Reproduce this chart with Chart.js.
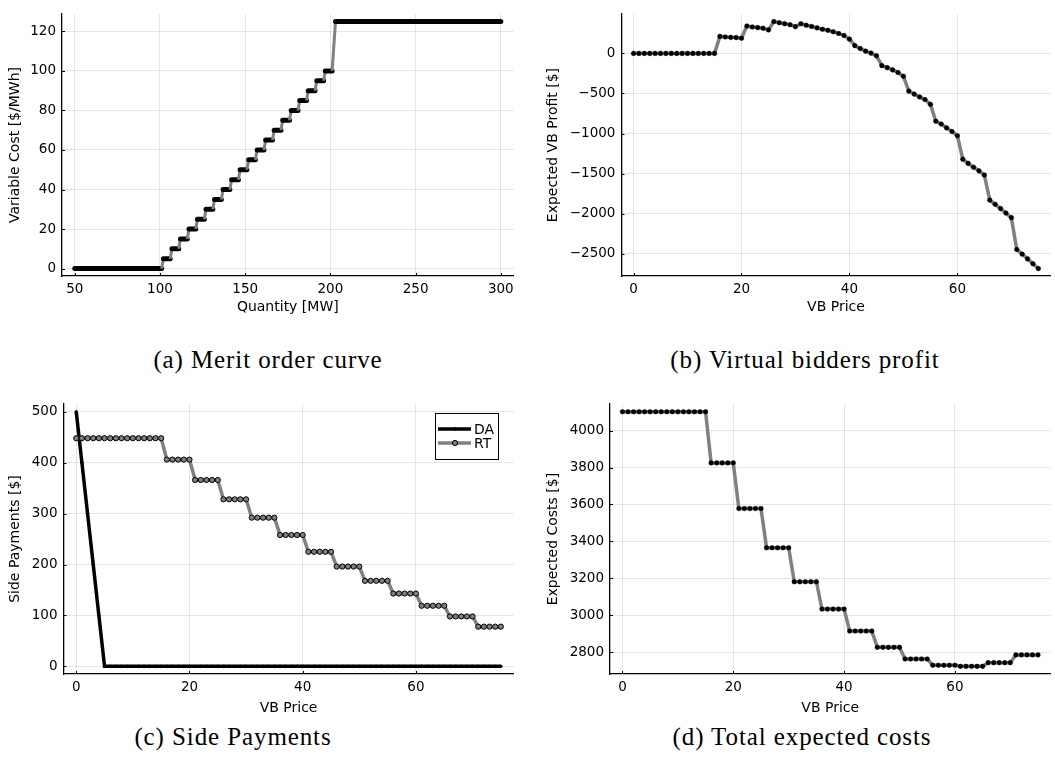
<!DOCTYPE html>
<html>
<head>
<meta charset="utf-8">
<title>Virtual bidding results</title>
<script src="https://cdn.jsdelivr.net/npm/chart.js@4.4.1/dist/chart.umd.min.js"></script>
<style>
  body { margin: 0; background: #fff; }
  #page { position: relative; width: 1055px; height: 772px; overflow: hidden; }
  #page canvas { position: absolute; }
  .caption {
    position: absolute;
    font-family: "Liberation Serif", "DejaVu Serif", serif;
    font-size: 25px;
    letter-spacing: 0.9px;
    line-height: 26px;
    color: #000;
    white-space: nowrap;
    transform: translateX(-50%);
  }
</style>
</head>
<body>
<div id="page">
  <canvas id="meritChart" width="530" height="330" style="left:0;top:0"></canvas>
  <canvas id="profitChart" width="525" height="330" style="left:530px;top:0"></canvas>
  <canvas id="sideChart" width="530" height="330" style="left:0;top:390px"></canvas>
  <canvas id="costChart" width="525" height="330" style="left:530px;top:390px"></canvas>
  <div class="caption" style="left:268px;top:347px">(a) Merit order curve</div>
  <div class="caption" style="left:805px;top:347px">(b) Virtual bidders profit</div>
  <div class="caption" style="left:233px;top:724px">(c) Side Payments</div>
  <div class="caption" style="left:802px;top:724px">(d) Total expected costs</div>
</div>
<script>
// merit order: first and last quantity of every price step
const quantity = [50, 101, 102, 106, 107, 111, 112, 116, 117, 121, 122, 126, 127, 131,
  132, 136, 137, 141, 142, 146, 147, 151, 152, 156, 157, 161, 162, 166, 167, 171,
  172, 176, 177, 181, 182, 186, 187, 191, 192, 196, 197, 201, 203, 300];
const variableCost = [0, 0, 5, 5, 10, 10, 15, 15, 20, 20, 25, 25, 30, 30,
  35, 35, 40, 40, 45, 45, 50, 50, 55, 55, 60, 60, 65, 65, 70, 70,
  75, 75, 80, 80, 85, 85, 90, 90, 95, 95, 100, 100, 125, 125];

const vbPrice = [0, 1, 2, 3, 4, 5, 6, 7, 8, 9, 10, 11, 12, 13, 14, 15, 16, 17, 18, 19,
  20, 21, 22, 23, 24, 25, 26, 27, 28, 29, 30, 31, 32, 33, 34, 35, 36, 37, 38, 39,
  40, 41, 42, 43, 44, 45, 46, 47, 48, 49, 50, 51, 52, 53, 54, 55, 56, 57, 58, 59,
  60, 61, 62, 63, 64, 65, 66, 67, 68, 69, 70, 71, 72, 73, 74, 75];

const vbProfit = [0, 0, 0, 0, 0, 0, 0, 0, 0, 0, 0, 0, 0, 0, 0, 0,
  212, 205, 200, 197, 189,
  342, 330, 322, 314, 293,
  398, 382, 370, 358, 334,
  370, 352, 336, 318, 302,
  288, 270, 249, 224, 178,
  97, 60, 28, 4, -29,
  -153, -178, -206, -238, -286,
  -471, -508, -544, -576, -636,
  -846, -882, -930, -975, -1027,
  -1321, -1373, -1421, -1466, -1518,
  -1832, -1884, -1937, -1993, -2050,
  -2448, -2505, -2565, -2626, -2686];

const sideDA = [500, 400, 300, 200, 100, 0, 0, 0, 0, 0, 0, 0, 0, 0, 0, 0,
  0, 0, 0, 0, 0, 0, 0, 0, 0, 0, 0, 0, 0, 0, 0, 0, 0, 0, 0, 0, 0, 0, 0, 0,
  0, 0, 0, 0, 0, 0, 0, 0, 0, 0, 0, 0, 0, 0, 0, 0, 0, 0, 0, 0, 0, 0, 0, 0,
  0, 0, 0, 0, 0, 0, 0, 0, 0, 0, 0, 0];
const sideRT = [448, 448, 448, 448, 448, 448, 448, 448, 448, 448, 448, 448, 448, 448, 448, 448,
  406, 406, 406, 406, 406,
  366, 366, 366, 366, 366,
  328, 328, 328, 328, 328,
  292, 292, 292, 292, 292,
  258, 258, 258, 258, 258,
  225, 225, 225, 225, 225,
  196, 196, 196, 196, 196,
  168, 168, 168, 168, 168,
  143, 143, 143, 143, 143,
  119, 119, 119, 119, 119,
  98, 98, 98, 98, 98,
  78, 78, 78, 78, 78];

const expectedCost = [4102, 4102, 4102, 4102, 4102, 4102, 4102, 4102, 4102, 4102, 4102, 4102, 4102, 4102, 4102, 4102,
  3825, 3825, 3825, 3825, 3825,
  3578, 3578, 3578, 3578, 3578,
  3366, 3366, 3366, 3366, 3366,
  3182, 3182, 3182, 3182, 3182,
  3034, 3034, 3034, 3034, 3034,
  2915, 2915, 2915, 2915, 2915,
  2827, 2827, 2827, 2827, 2827,
  2764, 2764, 2764, 2764, 2764,
  2730, 2730, 2730, 2730, 2730,
  2724, 2724, 2724, 2724, 2724,
  2744, 2744, 2744, 2744, 2744,
  2786, 2786, 2786, 2786, 2786];

const quantityTicks = [50, 100, 150, 200, 250, 300];
const costTicks = [0, 20, 40, 60, 80, 100, 120];
const priceTicks = [0, 20, 40, 60];
const profitTicks = [0, -500, -1000, -1500, -2000, -2500];
const sideTicks = [0, 100, 200, 300, 400, 500];
const expectedTicks = [2800, 3000, 3200, 3400, 3600, 3800, 4000];

Chart.defaults.font.family = '"DejaVu Sans", sans-serif';
Chart.defaults.color = '#000';
Chart.defaults.animation = false;
Chart.defaults.plugins.legend.display = false;
Chart.defaults.plugins.tooltip.enabled = false;

const GRAY = '#808080';

// short tick marks pointing into the plot from each axis line
Chart.register({
  id: 'innerTicks',
  beforeDatasetsDraw(chart) {
    const { ctx, chartArea } = chart;
    ctx.save();
    ctx.strokeStyle = '#000';
    ctx.lineWidth = 1;
    ctx.beginPath();
    Object.values(chart.scales).forEach(s => {
      s.ticks.forEach(t => {
        const p = Math.round(s.getPixelForValue(t.value)) + 0.5;
        if (s.isHorizontal()) {
          ctx.moveTo(p, chartArea.bottom);
          ctx.lineTo(p, chartArea.bottom - 3);
        } else {
          ctx.moveTo(chartArea.left, p);
          ctx.lineTo(chartArea.left + 3, p);
        }
      });
    });
    ctx.stroke();
    ctx.restore();
  }
});

// axis limits with a 3% margin on both sides, like the plotting backend
function padded(values) {
  const lo = Math.min(...values), hi = Math.max(...values);
  const m = (hi - lo) * 0.03;
  return [lo - m, hi + m];
}

const minus = v => String(v).replace('-', '\u2212');

function axis(values, ticks, title, size, titlePad, fmt) {
  const [min, max] = padded(values);
  return {
    type: 'linear',
    min: min,
    max: max,
    afterBuildTicks: s => { s.ticks = ticks.map(v => ({ value: v })); },
    afterFit: s => { if (s.isHorizontal()) s.height = size; else s.width = size; },
    grid: { color: 'rgba(0,0,0,0.1)', lineWidth: 1, drawTicks: false },
    border: { color: '#000', width: 1.3 },
    ticks: { autoSkip: false, maxRotation: 0, padding: 6, font: { size: 13.5 }, callback: fmt || (v => v) },
    title: { display: true, text: title, font: { size: 14 }, padding: titlePad }
  };
}

function xAxis(values, ticks, title, size, padBottom) {
  const a = axis(values, ticks, title, size, { top: 0, bottom: padBottom });
  a.ticks.padding = 5;
  return a;
}

function yAxis(values, ticks, title, size, padTop, fmt) {
  return axis(values, ticks, title, size, { top: padTop, bottom: 0 }, fmt);
}

const flat = c => c.p0.parsed.y === c.p1.parsed.y;

new Chart(document.getElementById('meritChart'), {
  type: 'line',
  data: {
    labels: quantity,
    datasets: [{
      data: variableCost,
      borderColor: GRAY,
      borderWidth: 3,
      pointRadius: 0,
      segment: {
        borderColor: c => flat(c) ? '#000' : GRAY,
        borderWidth: c => flat(c) ? 5 : 3,
        borderCapStyle: c => flat(c) ? 'round' : 'butt'
      }
    }]
  },
  options: {
    responsive: false,
    layout: { padding: { left: 0, right: 16.4, top: 5.7, bottom: 0 } },
    scales: {
      x: xAxis(quantity, quantityTicks, 'Quantity [MW]', 54, 14.6),
      y: yAxis(variableCost, costTicks, 'Variable Cost [$/MWh]', 62, 7.3)
    }
  }
});

new Chart(document.getElementById('profitChart'), {
  type: 'line',
  data: {
    labels: vbPrice,
    datasets: [{
      data: vbProfit,
      borderColor: GRAY,
      borderWidth: 3.5,
      pointRadius: 2.3,
      pointBackgroundColor: '#000',
      pointBorderColor: '#000',
      pointBorderWidth: 0.5
    }]
  },
  options: {
    responsive: false,
    layout: { padding: { left: 0, right: 0, top: 5.7, bottom: 0 } },
    scales: {
      x: xAxis(vbPrice, priceTicks, 'VB Price', 54, 14.6),
      y: yAxis(vbProfit, profitTicks, 'Expected VB Profit [$]', 91.4, 14.6, minus)
    }
  }
});

// boxed legend in the upper right corner of the plot area
const boxLegend = {
  id: 'boxLegend',
  afterDatasetsDraw(chart) {
    const { ctx, chartArea } = chart;
    const x = Math.round(chartArea.right - 79), y = Math.round(chartArea.top + 9);
    ctx.save();
    ctx.fillStyle = '#fff';
    ctx.fillRect(x, y, 63, 46);
    ctx.strokeStyle = '#000';
    ctx.lineWidth = 1;
    ctx.strokeRect(x + 0.5, y + 0.5, 63, 46);
    ctx.font = '14px "DejaVu Sans"';
    ctx.textBaseline = 'middle';
    chart.data.datasets.forEach((ds, i) => {
      const ly = y + 16 + i * 14;
      ctx.strokeStyle = ds.borderColor;
      ctx.lineWidth = ds.borderWidth;
      ctx.beginPath();
      ctx.moveTo(x + 3, ly);
      ctx.lineTo(x + 36, ly);
      ctx.stroke();
      ctx.beginPath();
      ctx.arc(x + 20, ly, ds.pointRadius, 0, Math.PI * 2);
      ctx.fillStyle = ds.pointBackgroundColor;
      ctx.fill();
      ctx.lineWidth = ds.pointBorderWidth;
      ctx.strokeStyle = ds.pointBorderColor;
      ctx.stroke();
      ctx.fillStyle = '#000';
      ctx.fillText(ds.label, x + 39, ly + 1);
    });
    ctx.restore();
  }
};

new Chart(document.getElementById('sideChart'), {
  type: 'line',
  data: {
    labels: vbPrice,
    datasets: [{
      label: 'DA',
      data: sideDA,
      borderColor: '#000',
      borderWidth: 3.5,
      pointRadius: 1.4,
      pointBackgroundColor: '#000',
      pointBorderColor: '#000',
      pointBorderWidth: 0.5,
      order: 1
    }, {
      label: 'RT',
      data: sideRT,
      borderColor: GRAY,
      borderWidth: 3.5,
      pointRadius: 2.6,
      pointBackgroundColor: GRAY,
      pointBorderColor: '#000',
      pointBorderWidth: 1,
      order: 0
    }]
  },
  options: {
    responsive: false,
    layout: { padding: { left: 0, right: 16.4, top: 13.7, bottom: 0 } },
    scales: {
      x: xAxis(vbPrice, priceTicks, 'VB Price', 46, 3),
      y: yAxis(sideDA.concat(sideRT), sideTicks, 'Side Payments [$]', 63.5, 6.6)
    }
  },
  plugins: [boxLegend]
});

new Chart(document.getElementById('costChart'), {
  type: 'line',
  data: {
    labels: vbPrice,
    datasets: [{
      data: expectedCost,
      borderColor: GRAY,
      borderWidth: 3.5,
      pointRadius: 2.3,
      pointBackgroundColor: '#000',
      pointBorderColor: '#000',
      pointBorderWidth: 0.5
    }]
  },
  options: {
    responsive: false,
    layout: { padding: { left: 0, right: 0, top: 14.1, bottom: 0 } },
    scales: {
      x: xAxis(vbPrice, priceTicks, 'VB Price', 46, 3),
      y: yAxis(expectedCost, expectedTicks, 'Expected Costs [$]', 80, 14.6)
    }
  }
});
</script>
</body>
</html>
